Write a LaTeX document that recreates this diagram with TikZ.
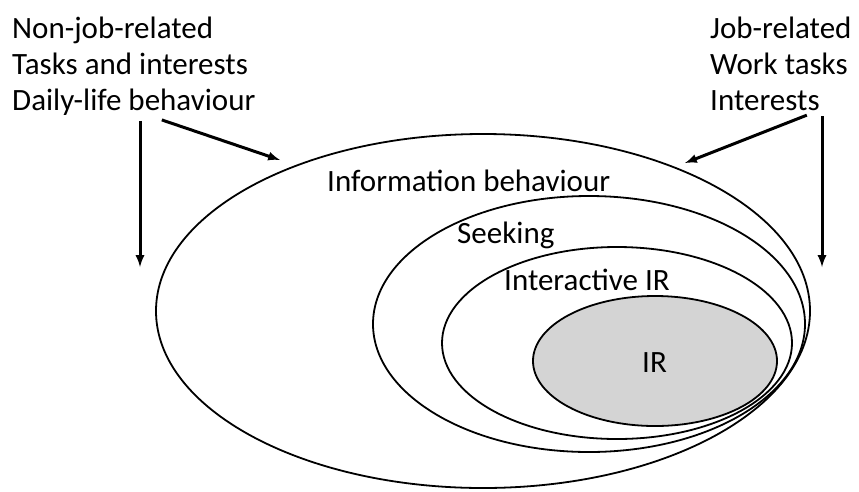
\documentclass[tikz,border=0pt]{standalone}
\usepackage{fontspec}
\setmainfont{Carlito}
\usepackage{tikz}
\usetikzlibrary{arrows,shapes,positioning}
\definecolor{irgray}{RGB}{212,212,212}

\begin{document}
\begin{tikzpicture}[x=1pt,y=-1pt,
        ring/.style={draw, line width=1.8pt},
        lbl/.style={inner sep=0pt, anchor=base west, font=\fontsize{31}{36}\selectfont},
        arr/.style={->,>=latex, line width=3pt}]
        \useasboundingbox (0,0) rectangle (859,491);

        \draw[ring] (483,311) ellipse (327pt and 177pt);
        \draw[ring] (589,324) ellipse (216pt and 128pt);
        \draw[ring] (617,343) ellipse (175pt and 96pt);
        \draw[ring, fill=irgray] (655,361) ellipse (122pt and 65pt);

        \node[lbl] (info) at (327,191) {Information behaviour};
        \node[lbl] (seek) at (457,243) {Seeking};
        \node[lbl] (iir) at (504,290) {Interactive IR};
        \node[lbl] (ir) at (642,372) {IR};

        \node[lbl, align=left, anchor=north west] (nonjob) at (12,17) {Non-job-related\\Tasks and interests\\Daily-life behaviour};
        \node[lbl, align=left, anchor=north west] (job) at (710,17) {Job-related\\Work tasks\\Interests};

        \coordinate (lefttip) at (140,267);
        \coordinate (lefthit) at (280,160);
        \coordinate (righthit) at (685,163);
        \coordinate (righttip) at (822,267);

        \draw[arr] ([yshift=-5pt]nonjob.south -| lefttip) -- (lefttip);
        \draw[arr] ([xshift=28pt,yshift=-4pt]nonjob.south) -- (lefthit);
        \draw[arr] ([xshift=26pt,yshift=-4pt]job.south) -- (righthit);
        \draw[arr] ([yshift=-5pt]job.south -| righttip) -- (righttip);
    \end{tikzpicture}
\end{document}
